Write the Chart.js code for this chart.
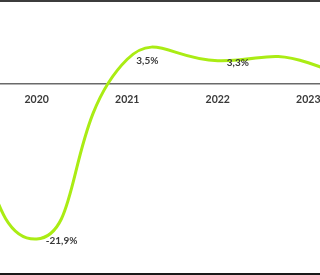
<!DOCTYPE html>
<html>
<head>
<meta charset="utf-8">
<script src="https://cdn.jsdelivr.net/npm/chart.js@4.4.1/dist/chart.umd.min.js"></script>
<style>
  html, body { margin: 0; padding: 0; background: #ffffff; }
  #wrap { position: relative; width: 320px; height: 275px; overflow: hidden; background: #ffffff; }
  #c { position: absolute; left: -75px; top: 0; }
  .bar { position: absolute; left: 0; width: 320px; }
  #topbar { top: 0; height: 2px; background: #3c3c3c; }
  #botbar { top: 273px; height: 2px; background: #1a1a1a; }
</style>
</head>
<body>
<div id="wrap">
  <canvas id="c" width="495" height="275"></canvas>
  <div id="topbar" class="bar"></div>
  <div id="botbar" class="bar"></div>
</div>
<script>
// Data
const years = ['2019', '2020', '2021', '2022', '2023', '2024'];
const growth = [2.0, -21.9, 3.5, 3.3, 3.0, -5.0];
const valueLabels = [null, '-21,9%', '3,5%', '3,3%', null, null];

const lineColor = 'rgb(170, 236, 20)';
const textColor = '#3a3a3a';

const labelPlugin = {
  id: 'pointLabels',
  afterDatasetsDraw(chart) {
    const ctx = chart.ctx;
    const meta = chart.getDatasetMeta(0);
    ctx.save();
    ctx.font = 'bold 10px Lato';
    ctx.fillStyle = textColor;
    ctx.textAlign = 'left';
    ctx.textBaseline = 'middle';
    meta.data.forEach((pt, i) => {
      const txt = valueLabels[i];
      if (!txt) return;
      ctx.fillText(txt, pt.x + 9, pt.y + 2);
    });
    ctx.restore();
  }
};

new Chart(document.getElementById('c'), {
  type: 'line',
  data: {
    labels: years,
    datasets: [{
      data: growth,
      borderColor: lineColor,
      borderWidth: 3,
      tension: 0.5,
      pointRadius: 0,
      fill: false
    }]
  },
  options: {
    responsive: false,
    animation: false,
    events: [],
    layout: { padding: { left: 20, right: 20, top: 0, bottom: 0 } },
    plugins: { legend: { display: false }, tooltip: { enabled: false } },
    scales: {
      x: {
        position: { y: 0 },
        offset: false,
        grid: { display: false, drawTicks: false },
        border: { display: true, color: '#6a6a6a', width: 1.5 },
        ticks: {
          maxRotation: 0,
          autoSkip: false,
          padding: 9,
          color: textColor,
          font: { family: 'Lato', size: 10.5, weight: 'bold' }
        },
        afterFit(scale) { scale.height = 0; }
      },
      y: {
        display: false,
        min: -26.985,
        max: 11.868
      }
    }
  },
  plugins: [labelPlugin]
});
</script>
</body>
</html>
